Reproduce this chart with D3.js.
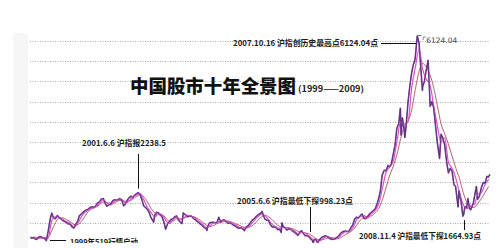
<!DOCTYPE html>
<html>
<head>
<meta charset="utf-8">
<script src="https://cdn.jsdelivr.net/npm/d3@7"></script>
<style>
  html, body { margin: 0; padding: 0; background: #fff; }
  svg { display: block; }
</style>
</head>
<body>
<div id="chart"></div>
<script>
// 上证指数 1999-2009
var price = [
  ["1999-01-04",1147],["1999-01-15",1120],["1999-01-29",1134],["1999-02-12",1100],["1999-02-26",1090],
  ["1999-03-15",1150],["1999-03-31",1158],["1999-04-15",1130],["1999-04-30",1120],["1999-05-17",1059],
  ["1999-05-31",1280],["1999-06-15",1550],["1999-06-30",1740],["1999-07-15",1620],["1999-07-30",1601],
  ["1999-08-16",1680],["1999-08-31",1627],["1999-09-15",1600],["1999-09-30",1556],["1999-10-15",1530],
  ["1999-10-29",1512],["1999-11-15",1470],["1999-11-30",1471],["1999-12-15",1400],["1999-12-30",1367],
  ["2000-01-14",1460],["2000-01-31",1535],["2000-02-15",1680],["2000-02-29",1714],["2000-03-15",1760],
  ["2000-03-31",1800],["2000-04-14",1820],["2000-04-28",1836],["2000-05-15",1880],["2000-05-31",1894],
  ["2000-06-15",1880],["2000-06-30",1928],["2000-07-14",1990],["2000-07-31",2023],["2000-08-15",2090],
  ["2000-08-31",2101],["2000-09-15",1980],["2000-09-29",1910],["2000-10-16",1950],["2000-10-31",1961],
  ["2000-11-15",2040],["2000-11-30",2070],["2000-12-15",2060],["2000-12-29",2073],
  ["2001-01-15",2100],["2001-01-31",2065],["2001-02-15",1920],["2001-02-28",1959],["2001-03-15",2050],
  ["2001-03-30",2112],["2001-04-16",2160],["2001-04-30",2119],["2001-05-15",2180],["2001-05-31",2214],
  ["2001-06-14",2245],["2001-06-29",2218],["2001-07-16",2080],["2001-07-31",1920],["2001-08-15",1880],
  ["2001-08-31",1834],["2001-09-14",1760],["2001-09-28",1642],["2001-10-22",1514],["2001-10-31",1690],
  ["2001-11-15",1760],["2001-11-30",1747],["2001-12-14",1700],["2001-12-31",1646],
  ["2002-01-15",1520],["2002-01-29",1339],["2002-02-15",1480],["2002-02-28",1524],["2002-03-15",1580],
  ["2002-03-29",1594],["2002-04-15",1650],["2002-04-30",1670],["2002-05-15",1570],["2002-05-31",1515],
  ["2002-06-14",1480],["2002-06-25",1748],["2002-06-28",1732],["2002-07-15",1690],["2002-07-31",1652],
  ["2002-08-15",1660],["2002-08-30",1670],["2002-09-16",1610],["2002-09-30",1581],["2002-10-15",1540],
  ["2002-10-31",1507],["2002-11-15",1460],["2002-11-29",1436],["2002-12-16",1380],["2002-12-31",1357],
  ["2003-01-06",1311],["2003-01-15",1420],["2003-01-29",1500],["2003-02-14",1510],["2003-02-28",1511],
  ["2003-03-14",1500],["2003-03-31",1510],["2003-04-15",1640],["2003-04-30",1521],["2003-05-15",1560],
  ["2003-05-30",1576],["2003-06-16",1530],["2003-06-30",1487],["2003-07-15",1500],["2003-07-31",1476],
  ["2003-08-15",1440],["2003-08-29",1421],["2003-09-15",1380],["2003-09-30",1367],["2003-10-15",1380],
  ["2003-10-31",1348],["2003-11-13",1307],["2003-11-28",1397],["2003-12-15",1430],["2003-12-31",1497],
  ["2004-01-15",1560],["2004-01-30",1590],["2004-02-16",1650],["2004-02-27",1675],["2004-03-15",1720],
  ["2004-03-31",1741],["2004-04-07",1783],["2004-04-30",1595],["2004-05-14",1570],["2004-05-31",1555],
  ["2004-06-15",1460],["2004-06-30",1399],["2004-07-15",1400],["2004-07-30",1386],["2004-08-16",1330],
  ["2004-08-31",1342],["2004-09-13",1260],["2004-09-20",1500],["2004-09-30",1396],["2004-10-15",1380],
  ["2004-10-29",1320],["2004-11-15",1350],["2004-11-30",1340],["2004-12-15",1300],["2004-12-31",1266],
  ["2005-01-14",1230],["2005-01-31",1191],["2005-02-15",1270],["2005-02-28",1306],["2005-03-15",1240],
  ["2005-03-31",1181],["2005-04-15",1180],["2005-04-29",1159],["2005-05-16",1100],["2005-05-31",1060],
  ["2005-06-06",998],["2005-06-15",1090],["2005-06-30",1080],["2005-07-11",1004],["2005-07-29",1083],
  ["2005-08-15",1140],["2005-08-31",1162],["2005-09-15",1180],["2005-09-30",1155],["2005-10-14",1130],
  ["2005-10-31",1092],["2005-11-15",1090],["2005-11-30",1099],["2005-12-15",1130],["2005-12-30",1161],
  ["2006-01-16",1230],["2006-01-25",1258],["2006-02-15",1290],["2006-02-28",1299],["2006-03-15",1280],
  ["2006-03-31",1298],["2006-04-14",1380],["2006-04-28",1440],["2006-05-15",1590],["2006-05-31",1641],
  ["2006-06-15",1620],["2006-06-30",1672],["2006-07-14",1720],["2006-07-31",1612],["2006-08-15",1600],
  ["2006-08-31",1658],["2006-09-15",1720],["2006-09-29",1752],["2006-10-16",1800],["2006-10-31",1837],
  ["2006-11-15",1950],["2006-11-30",2099],["2006-12-15",2300],["2006-12-29",2675],
  ["2007-01-15",2800],["2007-01-31",2786],["2007-02-15",2920],["2007-02-28",2881],["2007-03-15",2950],
  ["2007-03-30",3183],["2007-04-16",3450],["2007-04-30",3841],["2007-05-15",3950],["2007-05-29",4335],
  ["2007-06-04",3670],["2007-06-15",4100],["2007-06-29",3820],["2007-07-05",3615],["2007-07-16",3900],
  ["2007-07-31",4471],["2007-08-15",4870],["2007-08-31",5218],["2007-09-14",5420],["2007-09-28",5552],
  ["2007-10-16",6124],["2007-10-31",5954],["2007-11-15",5300],["2007-11-28",4779],["2007-11-30",4871],
  ["2007-12-14",5000],["2007-12-28",5262],
  ["2008-01-14",5522],["2008-01-31",4383],["2008-02-15",4500],["2008-02-29",4348],["2008-03-14",3950],
  ["2008-03-31",3473],["2008-04-18",3094],["2008-04-30",3693],["2008-05-15",3600],["2008-05-30",3433],
  ["2008-06-16",3000],["2008-06-30",2736],["2008-07-15",2850],["2008-07-31",2775],["2008-08-15",2450],
  ["2008-08-29",2397],["2008-09-18",1895],["2008-09-26",2293],["2008-10-15",2000],["2008-10-28",1664],
  ["2008-11-04",1706],["2008-11-14",1900],["2008-11-28",1871],["2008-12-09",2100],["2008-12-23",1850],
  ["2008-12-31",1821],
  ["2009-01-15",1920],["2009-01-23",1991],["2009-02-17",2400],["2009-02-27",2082],["2009-03-13",2150],
  ["2009-03-31",2373],["2009-04-15",2500],["2009-04-30",2477],["2009-05-15",2650],["2009-05-27",2632],
  ["2009-06-10",2700]
];

// 均线 (monthly readings, Jan 1999 - May 2009)
var maFast = [
  1130,1105,1130,1135,1120,1550,1650,1630,1590,1530,1490,1400,
  1470,1640,1760,1820,1870,1900,1980,2070,1990,1940,2030,2065,
  2080,1990,2040,2130,2180,2220,2080,1880,1760,1640,1730,1700,
  1560,1480,1570,1640,1580,1620,1690,1660,1620,1540,1470,1390,
  1420,1500,1510,1550,1560,1530,1490,1450,1390,1370,1370,1440,
  1550,1640,1710,1680,1580,1460,1400,1360,1390,1380,1340,1300,
  1230,1260,1240,1180,1100,1060,1050,1120,1165,1120,1090,1130,
  1220,1280,1290,1380,1580,1650,1680,1620,1720,1800,1960,2350,
  2750,2880,3020,3500,4000,3950,4000,4850,5350,5800,5300,5050,
  4900,4400,3900,3500,3600,3000,2850,2600,2250,1950,1850,1930,
  1950,2200,2250,2450,2580
];
var maSlow = [
  1150,1130,1120,1125,1140,1300,1500,1620,1620,1580,1530,1460,
  1450,1530,1660,1790,1850,1890,1950,2010,2000,1990,1990,2040,
  2060,2030,2040,2080,2150,2190,2150,2020,1860,1740,1700,1700,
  1620,1540,1540,1600,1600,1620,1650,1660,1640,1590,1520,1450,
  1400,1430,1480,1510,1530,1540,1520,1480,1440,1400,1380,1400,
  1460,1550,1640,1690,1650,1580,1480,1410,1380,1380,1370,1340,
  1290,1260,1250,1230,1170,1110,1080,1090,1120,1140,1120,1110,
  1150,1210,1260,1320,1440,1560,1640,1660,1670,1740,1850,2070,
  2380,2660,2900,3180,3580,3870,4010,4300,4800,5250,5450,5350,
  5150,4850,4400,3950,3700,3450,3150,2850,2600,2250,2000,1900,
  1880,1980,2100,2250,2400
];

var gridValues = [1000,1500,2000,2500,3000,3500,4000,4500,5000,5500,6000];

var notes = [
  { date: "2001-06-14", text: "2001.6.6 沪指报2238.5" },
  { date: "2005-06-06", text: "2005.6.6 沪指最低下探998.23点" },
  { date: "2008-11-04", text: "2008.11.4 沪指最低下探1664.93点" },
  { date: "2007-10-16", text: "2007.10.16 沪指创历史最高点6124.04点" }
];

var W = 496, H = 248;
var parse = d3.timeParse("%Y-%m-%d");

var x = d3.scaleTime()
  .domain([new Date(1999,0,1), new Date(2009,5,10)])
  .range([30, 490]);
var y = d3.scaleLinear().domain([1000, 6000]).range([243, 41]);

var svg = d3.select("#chart").append("svg")
  .attr("width", W).attr("height", H);

svg.append("defs").append("clipPath").attr("id", "clip")
  .append("rect").attr("x", 0).attr("y", 0).attr("width", W).attr("height", 243);

// faint left strip
svg.append("rect").attr("x", 13).attr("y", 33).attr("width", 15).attr("height", H - 33)
  .attr("fill", "#f7f7f7");

var plot = svg.append("g").attr("clip-path", "url(#clip)");

// dotted grid
plot.selectAll(".grid").data(gridValues).enter().append("line")
  .attr("x1", 30).attr("x2", 490)
  .attr("y1", d => Math.round(y(d)) + 0.5).attr("y2", d => Math.round(y(d)) + 0.5)
  .attr("stroke", "#aaaaaa").attr("stroke-width", 1)
  .attr("stroke-dasharray", "1,1.5");

var pts = price.map(d => ({ t: parse(d[0]), v: d[1] }));
var months = d3.timeMonth.range(new Date(1999,1,1), new Date(2009,5,2))
  .map(d => d3.timeDay.offset(d, -1));
var slowPts = months.map((t, i) => ({ t: t, v: maSlow[i] }));
var fastPts = months.map((t, i) => ({ t: t, v: maFast[i] }));

var line = d3.line().x(d => x(d.t)).y(d => y(d.v));
var smooth = d3.line().x(d => x(d.t)).y(d => y(d.v)).curve(d3.curveMonotoneX);

plot.append("path").datum(slowPts).attr("d", smooth)
  .attr("fill", "none").attr("stroke", "#b0505a").attr("stroke-width", 0.9);
plot.append("path").datum(pts).attr("d", line)
  .attr("fill", "none").attr("stroke", "#8a3fb0").attr("stroke-width", 1.6)
  .attr("stroke-linejoin", "round");
plot.append("path").datum(fastPts).attr("d", smooth)
  .attr("fill", "none").attr("stroke", "#d455c8").attr("stroke-width", 1.2);
plot.append("path").datum(pts).attr("d", line)
  .attr("fill", "none").attr("stroke", "#3c3350").attr("stroke-width", 0.6)
  .attr("stroke-linejoin", "round");

// title
svg.append("text").attr("x", 130).attr("y", 93)
  .attr("font-family", "'Noto Sans CJK SC'").attr("font-weight", 900)
  .attr("font-size", 18.5).attr("fill", "#111")
  .attr("textLength", 166).attr("lengthAdjust", "spacingAndGlyphs")
  .text("中国股市十年全景图");
svg.append("text").attr("x", 298).attr("y", 92)
  .attr("font-family", "'Noto Sans CJK SC'").attr("font-weight", 700)
  .attr("font-size", 8.5).attr("fill", "#222")
  .attr("textLength", 66).attr("lengthAdjust", "spacingAndGlyphs")
  .text("(1999——2009)");

function label(xx, yy, txt, len) {
  svg.append("text").attr("x", xx).attr("y", yy)
    .attr("font-family", "'Noto Sans CJK SC'").attr("font-weight", 700)
    .attr("font-size", 8).attr("fill", "#1a1a1a")
    .attr("textLength", len).attr("lengthAdjust", "spacingAndGlyphs")
    .text(txt);
}

// 2001 peak
var n0 = parse(notes[0].date);
label(82, 146, notes[0].text, 84);
svg.append("line").attr("x1", Math.round(x(n0)) + 0.5).attr("x2", Math.round(x(n0)) + 0.5)
  .attr("y1", 154).attr("y2", y(2245) - 4).attr("stroke", "#111");

// 2005 low
var n1 = parse(notes[1].date);
label(237, 204, notes[1].text, 116);
svg.append("line").attr("x1", Math.round(x(n1)) - 2.5).attr("x2", Math.round(x(n1)) - 2.5)
  .attr("y1", 207).attr("y2", 232).attr("stroke", "#111");

// 2008 low
var n2 = parse(notes[2].date);
label(359, 239, notes[2].text, 122);
svg.append("line").attr("x1", Math.round(x(n2)) + 0.5).attr("x2", Math.round(x(n2)) + 0.5)
  .attr("y1", y(1664) + 4).attr("y2", 230).attr("stroke", "#111");

// 2007 high
var n3 = parse(notes[3].date);
label(233, 46, notes[3].text, 145);
svg.append("line").attr("x1", 381).attr("x2", x(n3) - 1)
  .attr("y1", 43.5).attr("y2", 43.5).attr("stroke", "#111");
svg.append("line").attr("x1", x(n3) + 0.5).attr("x2", x(n3) + 0.5)
  .attr("y1", 35).attr("y2", y(6124)).attr("stroke", "#2e9a3a");
svg.append("line").attr("x1", x(n3) + 0.5).attr("x2", x(n3) + 4)
  .attr("y1", 35.5).attr("y2", 35.5).attr("stroke", "#2e9a3a");
svg.append("path").attr("d", "M" + (x(n3) + 6) + ",40 v-3 h3")
  .attr("fill", "none").attr("stroke", "#777").attr("stroke-width", 0.8);
svg.append("text").attr("x", x(n3) + 9).attr("y", 43)
  .attr("font-family", "'DejaVu Sans'").attr("font-size", 7.5).attr("fill", "#444")
  .text("6124.04");

// 519 label (clipped at the bottom like the picture)
var bottom = svg.append("g").attr("clip-path", "url(#clip)");
bottom.append("line").attr("x1", 50).attr("x2", 66).attr("y1", 240.5).attr("y2", 240.5)
  .attr("stroke", "#111");
bottom.append("text").attr("x", 70).attr("y", 245)
  .attr("font-family", "'Noto Sans CJK SC'").attr("font-weight", 700)
  .attr("font-size", 8).attr("fill", "#1a1a1a")
  .attr("textLength", 68).attr("lengthAdjust", "spacingAndGlyphs")
  .text("1999年519行情启动");
</script>
</body>
</html>
